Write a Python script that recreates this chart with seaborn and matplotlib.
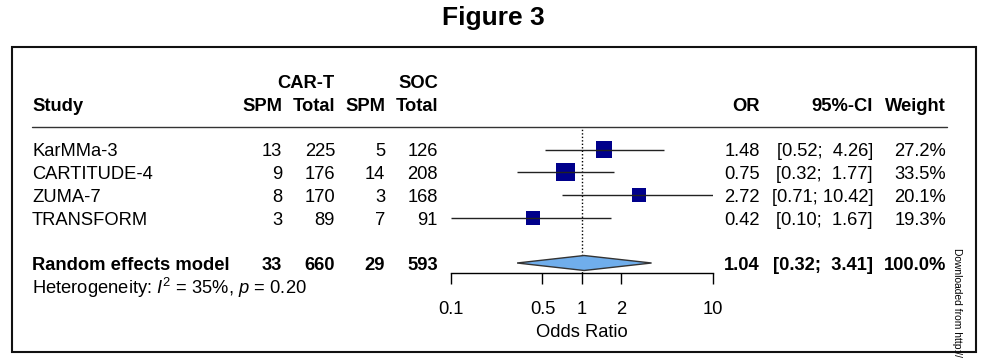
import pandas as pd
import matplotlib
matplotlib.use("Agg")
import matplotlib.pyplot as plt
import matplotlib.transforms as mtransforms
from matplotlib.patches import Rectangle
from matplotlib.lines import Line2D
from matplotlib.ticker import NullLocator
import seaborn as sns

# data
studies = ["KarMMa-3", "CARTITUDE-4", "ZUMA-7", "TRANSFORM"]
spm_cart = [13, 9, 8, 3]
total_cart = [225, 176, 170, 89]
spm_soc = [5, 14, 3, 7]
total_soc = [126, 208, 168, 91]
odds_ratio = [1.48, 0.75, 2.72, 0.42]
ci_low = [0.52, 0.32, 0.71, 0.10]
ci_high = [4.26, 1.77, 10.42, 1.67]
weight = [27.2, 33.5, 20.1, 19.3]

pooled_label = "Random effects model"
pooled_counts = [33, 660, 29, 593]
pooled_or, pooled_low, pooled_high, pooled_weight = 1.04, 0.32, 3.41, 100.0
heterogeneity = r"Heterogeneity: $I^2$ = 35%, $p$ = 0.20"

ticks = [0.1, 0.5, 1, 2, 10]
tick_labels = ["0.1", "0.5", "1", "2", "10"]

sns.set_theme(style="white")
plt.rcParams['font.family'] = ['Liberation Sans', 'DejaVu Sans']
plt.rcParams['mathtext.fontset'] = 'custom'
plt.rcParams['mathtext.rm'] = 'Liberation Sans'
plt.rcParams['mathtext.it'] = 'Liberation Sans:italic'
plt.rcParams['mathtext.bf'] = 'Liberation Sans:bold'

W, H = 992, 364
FS = 13.2
fig = plt.figure(figsize=(W / 100, H / 100), dpi=100)


def fx(px):
    return px / W


def fy(py):
    return 1 - py / H


# row layout (pixels)
row0, row_h = 149.5, 22.7
ax_top, ax_bot = 127, 273
ax = fig.add_axes([fx(451), fy(ax_bot), (712.7 - 451) / W, (ax_bot - ax_top) / H])
ax.set_xscale("log")
ax.set_xlim(0.1, 10)
ax.set_ylim((ax_bot - row0) / row_h, (ax_top - row0) / row_h)
ax.patch.set_visible(False)

rows = list(range(len(studies)))
pooled_row = len(studies) + 1
df = pd.DataFrame({"study": studies, "or": odds_ratio, "lo": ci_low,
                   "hi": ci_high, "weight": weight, "row": rows})

# reference line at OR = 1
ax.axvline(1, color="black", lw=1, ls=(0, (1, 1.5)), zorder=1)

# CI lines and weighted squares
ax.hlines(df["row"], df["lo"], df["hi"], color="#222222", lw=1, zorder=4)
k = 5.3
sns.scatterplot(data=df, x="or", y="row", size="weight",
                sizes=(min(weight) * k, max(weight) * k), marker="s",
                color="#00008B", linewidth=0, legend=False, ax=ax, zorder=3)

# pooled diamond
hh = 0.33
ax.fill([pooled_low, pooled_or, pooled_high, pooled_or],
        [pooled_row, pooled_row - hh, pooled_row, pooled_row + hh],
        facecolor="#70aeec", edgecolor="#333333", lw=1, zorder=5)

# axis
sns.despine(ax=ax, left=True)
ax.spines["bottom"].set_color("black")
ax.spines["bottom"].set_linewidth(1)
ax.set_yticks([])
ax.set_xticks(ticks)
ax.set_xticklabels(tick_labels)
ax.xaxis.set_minor_locator(NullLocator())
ax.tick_params(axis="x", bottom=True, direction="out", length=8, width=1,
               color="black", pad=12.5, labelsize=FS, labelcolor="black")
ax.set_xlabel("Odds Ratio", fontsize=FS, labelpad=4, color="black")
ax.set_ylabel("")

# text columns (x in figure px, y in row units, nudged down to centre caps)
trans = mtransforms.blended_transform_factory(fig.transFigure, ax.transData)
trans = mtransforms.offset_copy(trans, fig=fig, y=-2.5, units="dots")


def put(px, row, s, ha="right", bold=False):
    ax.text(fx(px), row, s, transform=trans, ha=ha, va="center",
            fontsize=FS, fontweight="bold" if bold else "normal",
            color="black", clip_on=False)


col_study = 32
col_num = [282, 335, 385, 438]
col_or, col_ci, col_w = 760, 873, 946

put(335, -3, "CAR-T", bold=True)
put(438, -3, "SOC", bold=True)
put(col_study, -2, "Study", ha="left", bold=True)
for px, s in zip(col_num, ["SPM", "Total", "SPM", "Total"]):
    put(px, -2, s, bold=True)
put(col_or, -2, "OR", bold=True)
put(col_ci, -2, "95%-CI", bold=True)
put(col_w, -2, "Weight", bold=True)

for i, r in enumerate(rows):
    put(col_study, r, studies[i], ha="left")
    for px, v in zip(col_num, [spm_cart[i], total_cart[i], spm_soc[i], total_soc[i]]):
        put(px, r, str(v))
    put(col_or, r, f"{odds_ratio[i]:.2f}")
    put(col_ci, r, f"[{ci_low[i]:.2f}; {ci_high[i]:5.2f}]")
    put(col_w, r, f"{weight[i]:.1f}%")

put(col_study, pooled_row, pooled_label, ha="left", bold=True)
for px, v in zip(col_num, pooled_counts):
    put(px, pooled_row, str(v), bold=True)
put(col_or, pooled_row, f"{pooled_or:.2f}", bold=True)
put(col_ci, pooled_row, f"[{pooled_low:.2f}; {pooled_high:5.2f}]", bold=True)
put(col_w, pooled_row, f"{pooled_weight:.1f}%", bold=True)
put(col_study, pooled_row + 1, heterogeneity, ha="left")

# header rule, frame, title, side note
fig.add_artist(Line2D([fx(32), fx(947)], [fy(ax_top)] * 2,
                      transform=fig.transFigure, color="#333333", lw=1))
fig.add_artist(Rectangle((fx(12), fy(352)), (976 - 12) / W, (352 - 47) / H,
                         transform=fig.transFigure, fill=False,
                         ec="#111111", lw=1.5))
fig.text(fx(493), fy(18), "Figure 3", ha="center", va="center",
         fontsize=19, fontweight="bold", color="black")
fig.text(fx(957), fy(248), "Downloaded from http://", rotation=270,
         ha="center", va="top", fontsize=7.4, color="black")

fig.savefig("out.png", dpi=100, facecolor="white")
